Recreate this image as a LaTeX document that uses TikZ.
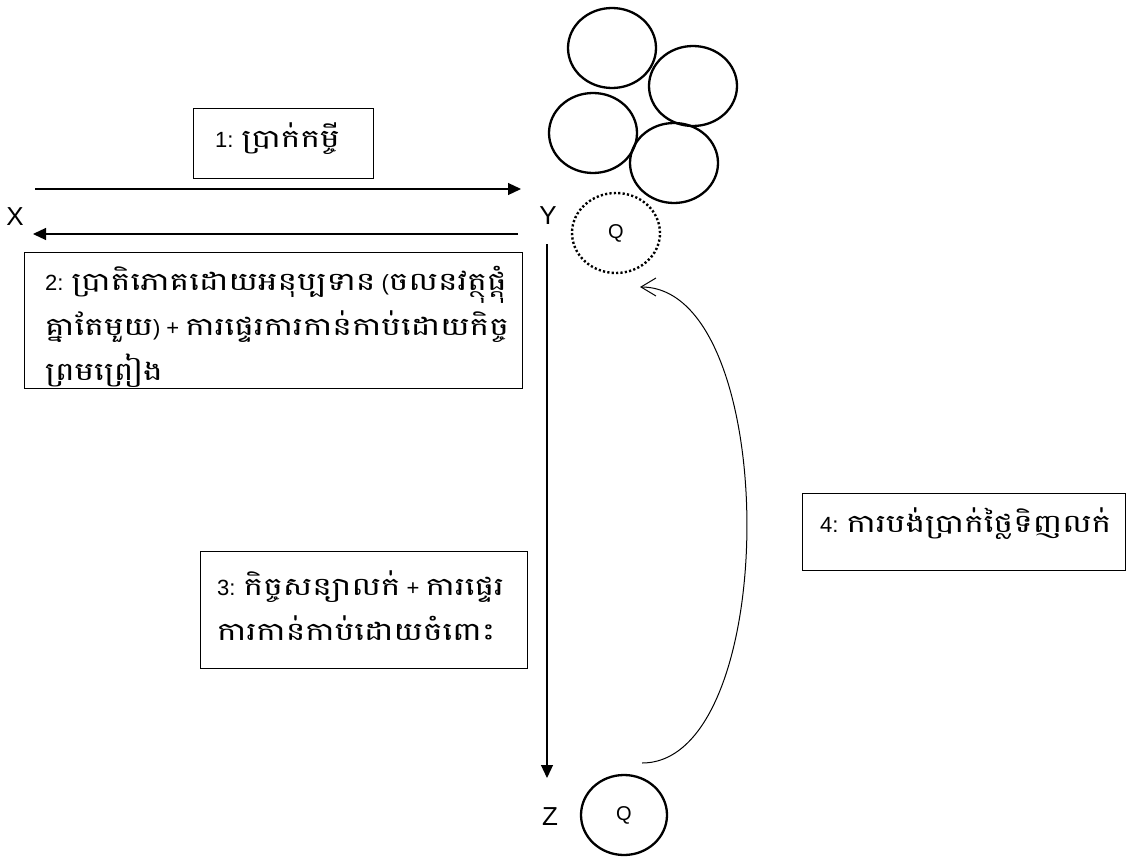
\documentclass[tikz,border=0pt]{standalone}
\usepackage{fontspec}
\setmainfont{Liberation Sans}
\newfontfamily\km[Script=Khmer,Scale=1.15,FakeStretch=1.3]{Battambang}
\usetikzlibrary{arrows.meta,shapes.geometric}
\begin{document}
\begin{tikzpicture}[x=1pt,y=-1pt,
  box/.style={draw, line width=1pt, inner sep=0pt, anchor=north west},
  txt/.style={anchor=base west, inner sep=0pt, align=left, font=\fontsize{22}{45}\selectfont},
  lbl/.style={inner sep=0pt, font=\fontsize{26}{30}\selectfont},
  ring/.style={draw, ellipse, line width=2.3pt, minimum width=88pt, minimum height=80pt, inner sep=0pt},
  qlbl/.style={font=\fontsize{20}{22}\selectfont},
  conn/.style={line width=1.2pt, -{Triangle[length=13pt,width=12pt]}},
]
\useasboundingbox (0,0) rectangle (1126,856);

% four circles top
\node[ring] (c1) at (612,48) {};
\node[ring] (c2) at (693,86) {};
\node[ring] (c3) at (593,133) {};
\node[ring] (c4) at (674,163) {};

% Q circles
\node[ring, line width=2.4pt, dash pattern=on 2.2pt off 2.2pt, qlbl] (qd) at (616,233) {Q};
\node[ring, minimum width=86pt, qlbl] (qz) at (624,815) {Q};

% labels
\node[lbl] (X) at (15,217) {X};
\node[lbl] (Y) at (548,216) {Y};
\node[lbl] (Z) at (550,817) {Z};

% boxes
\node[box, minimum width=180pt, minimum height=70pt] (b1) at (193,108) {};
\node[box, minimum width=498pt, minimum height=136pt] (b2) at (24,252) {};
\node[box, minimum width=327pt, minimum height=117pt] (b3) at (200,551) {};
\node[box, minimum width=323pt, minimum height=77pt] (b4) at (802,493) {};

\node[txt] (t1) at (215,147) {1: {\km ប្រាក់កម្ចី}};
\node[txt] (t2) at (45,380) {2: {\km ប្រាតិភោគដោយអនុប្បទាន} ({\km ចលនវត្ថុផ្តុំ}\\{\km គ្នាតែមួយ}) + {\km ការផ្ទេរការកាន់កាប់ដោយកិច្ច}\\{\km ព្រមព្រៀង}};
\node[txt] (t3) at (217,640) {3: {\km កិច្ចសន្យាលក់} + {\km ការផ្ទេរ}\\{\km ការកាន់កាប់ដោយចំពោះ}};
\node[txt] (t4) at (820,532) {4: {\km ការបង់ប្រាក់ថ្លៃទិញលក់}};

% connector end points
\coordinate (a1s) at (35,189);
\coordinate (a1e) at (521,189);
\coordinate (a2s) at (518,234);
\coordinate (a2e) at (33,234);
\coordinate (a3s) at (547,244);
\coordinate (a3e) at (547,778);
\coordinate (a4s) at (642,763);
\coordinate (a4e) at (640,287);

\draw[conn] (a1s) -- (a1e);
\draw[conn] (a2s) -- (a2e);
\draw[conn] (a3s) -- (a3e);
\draw[line width=1pt, -{Straight Barb[length=15pt,width=18pt]}] (a4s) .. controls (782,763) and (782,287) .. (a4e);
\end{tikzpicture}
\end{document}
